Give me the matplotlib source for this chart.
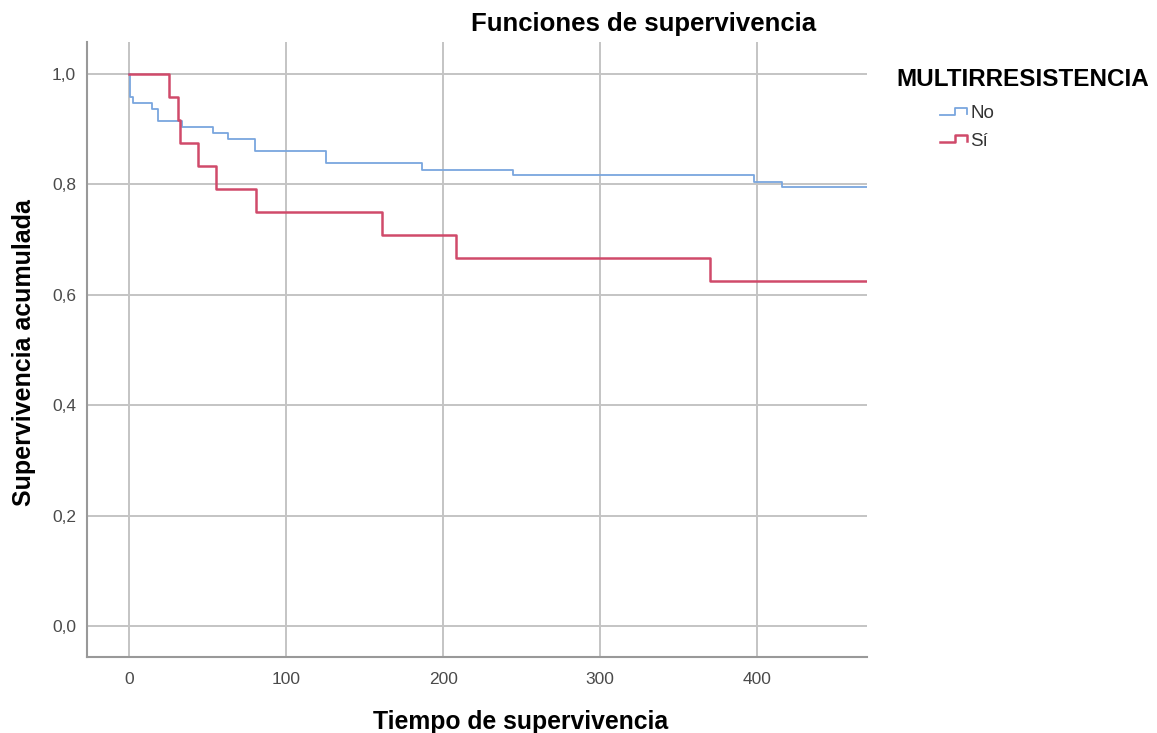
import matplotlib.pyplot as plt
from matplotlib.lines import Line2D
from matplotlib.ticker import FuncFormatter

plt.rcParams['font.family'] = ['Liberation Sans', 'DejaVu Sans']

# Kaplan-Meier steps (time, survival after the drop)
no_time = [0, 0.5, 2.5, 14.5, 18.5, 33.6, 53.6, 63, 80, 125.6, 186.7, 244.5, 398.3, 416, 470]
no_surv = [1.0, 0.959, 0.948, 0.937, 0.915, 0.904, 0.894, 0.882, 0.861, 0.838, 0.827, 0.817, 0.805, 0.796, 0.796]

si_time = [0, 25.5, 30.8, 32.5, 43.6, 55.5, 81, 161.3, 208, 370, 470]
si_surv = [1.0, 0.958, 0.917, 0.875, 0.833, 0.792, 0.750, 0.708, 0.667, 0.625, 0.625]

x_ticks = [0, 100, 200, 300, 400]
y_ticks = [0.0, 0.2, 0.4, 0.6, 0.8, 1.0]

blue = '#7aa6de'
red = '#d04a6a'
grid_c = '#c4c4c4'

W, H = 1157, 733
fig = plt.figure(figsize=(W / 100, H / 100), dpi=100)
ax = fig.add_axes([0.0752, 0.1037, 0.6738, 0.839])

ax.step(no_time, no_surv, where='post', color=blue, lw=1.3, zorder=3)
ax.step(si_time, si_surv, where='post', color=red, lw=1.8, zorder=3)

ax.set_xlim(-27, 470)
ax.set_ylim(-0.056, 1.058)
ax.set_xticks(x_ticks)
ax.set_yticks(y_ticks)
ax.yaxis.set_major_formatter(FuncFormatter(lambda v, p: f"{v:.1f}".replace('.', ',')))
ax.grid(True, color=grid_c, lw=1.4)
ax.set_axisbelow(True)
ax.tick_params(length=0, labelsize=12.5, labelcolor='#4a4a4a')
ax.tick_params(axis='y', pad=8)
ax.tick_params(axis='x', pad=11)
for s in ['top', 'right']:
    ax.spines[s].set_visible(False)
for s in ['left', 'bottom']:
    ax.spines[s].set_color('#999999')
    ax.spines[s].set_linewidth(1.5)

fig.text(24 / W, 1 - 353 / H, 'Supervivencia acumulada', fontsize=18, fontweight='bold',
         rotation=90, ha='center', va='center')
fig.text(521 / W, 1 - 729 / H, 'Tiempo de supervivencia', fontsize=17.8, fontweight='bold',
         ha='center', va='baseline')
fig.text(644 / W, 1 - 31 / H, 'Funciones de supervivencia', fontsize=18.5, fontweight='bold',
         ha='center', va='baseline')

# legend drawn by hand: title plus step-shaped icons
fig.text(896 / W, 1 - 79 / H, 'MULTIRRESISTENCIA', fontsize=17.5, fontweight='bold', ha='left', va='center')
for label, col, ypx, lw in [('No', blue, 114, 1.3), ('Sí', red, 141, 1.8)]:
    xs = [940, 955, 955, 967, 967]
    ys = [ypx + 1, ypx + 1, ypx - 6, ypx - 6, ypx]
    fig.add_artist(Line2D([x / W for x in xs], [1 - y / H for y in ys],
                          transform=fig.transFigure, color=col, lw=lw))
    fig.text(970 / W, 1 - ypx / H, label, fontsize=13.5, color='#333333', ha='left', va='center')

plt.savefig('out.png', dpi=100)
